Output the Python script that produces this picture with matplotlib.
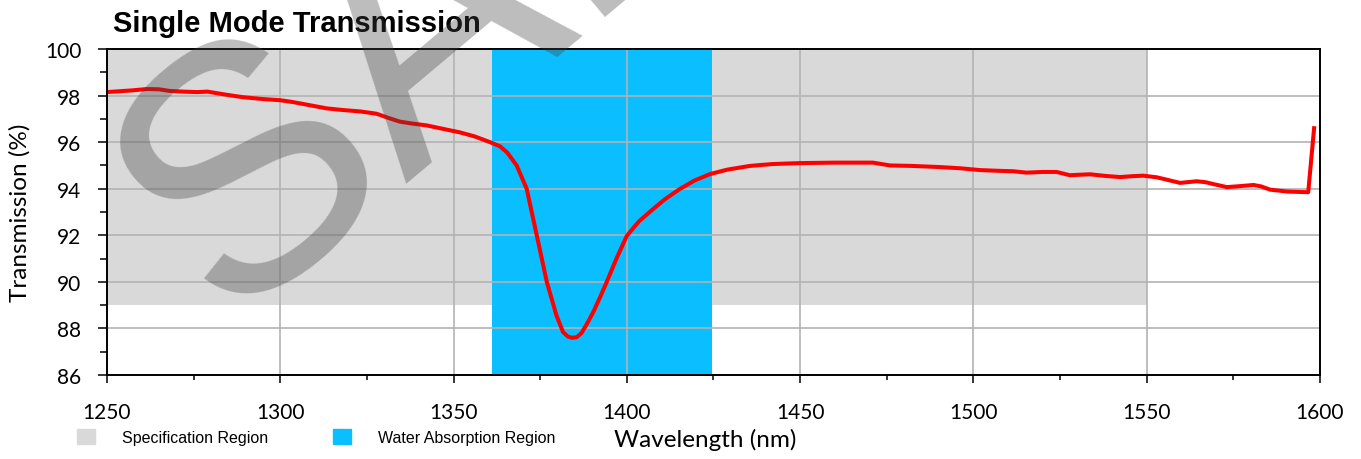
import numpy as np
import matplotlib
matplotlib.use("Agg")
import matplotlib.pyplot as plt
from matplotlib.patches import Patch
from matplotlib.ticker import MultipleLocator

plt.rcParams['font.family'] = ['Lato', 'DejaVu Sans']

wavelength = [1250, 1253, 1257, 1261.5, 1265, 1268, 1272, 1276, 1279, 1282.6,
              1286, 1289.3, 1295, 1300, 1303.7, 1308, 1313.4, 1318, 1323, 1327.8,
              1331, 1334.5, 1338, 1342.2, 1346, 1351.8, 1356, 1360.5, 1363.4, 1365.5,
              1368.2, 1371.1, 1374.0, 1376.9, 1379.7, 1381.6, 1383, 1384.1, 1385.5, 1386.9,
              1388.5, 1390.3, 1392.3, 1394.2, 1397, 1400, 1403.5, 1407.6, 1411, 1415.3,
              1419.5, 1424.0, 1429, 1435.5, 1442, 1449.9, 1460, 1471, 1475.9, 1482,
              1490.3, 1496, 1501.9, 1507, 1511.5, 1515.3, 1520, 1524, 1527.8, 1533.6,
              1538, 1542.3, 1546, 1549, 1552.9, 1556, 1559.6, 1564.4, 1567, 1569.2,
              1573.1, 1576, 1580.8, 1583, 1585.6, 1590.4, 1594, 1596.6, 1598.3]
transmission = [98.15, 98.18, 98.22, 98.28, 98.27, 98.20, 98.17, 98.15, 98.17, 98.08,
                98.00, 97.93, 97.85, 97.80, 97.72, 97.60, 97.45, 97.38, 97.32, 97.22,
                97.05, 96.88, 96.80, 96.72, 96.60, 96.42, 96.25, 96.00, 95.82, 95.55,
                95.00, 94.00, 92.00, 90.00, 88.55, 87.84, 87.65, 87.60, 87.62, 87.80,
                88.20, 88.70, 89.35, 90.00, 91.00, 91.98, 92.60, 93.13, 93.55, 93.99,
                94.35, 94.63, 94.82, 94.98, 95.06, 95.10, 95.12, 95.12, 95.00, 94.98,
                94.93, 94.88, 94.80, 94.77, 94.75, 94.69, 94.72, 94.72, 94.58, 94.62,
                94.55, 94.50, 94.54, 94.56, 94.49, 94.38, 94.25, 94.32, 94.28, 94.20,
                94.07, 94.10, 94.16, 94.10, 93.96, 93.88, 93.86, 93.85, 96.60]

spec_region = (1250, 1550)
spec_floor = 89
water_region = (1361, 1424.5)

fig = plt.figure(figsize=(13.61, 4.6), dpi=100)
ax = fig.add_axes([107 / 1361, 1 - 376 / 460, 1213 / 1361, 326 / 460])

ax.fill_between(spec_region, spec_floor, 100, color='#d9d9d9', lw=0, zorder=1)
ax.axvspan(*water_region, color='#0bbeff', lw=0, zorder=1)
ax.plot(wavelength, transmission, color='#ff0000', lw=2.9, zorder=3)

ax.set_xlim(1250, 1600)
ax.set_ylim(86, 100)
ax.xaxis.set_major_locator(MultipleLocator(50))
ax.xaxis.set_minor_locator(MultipleLocator(25))
ax.yaxis.set_major_locator(MultipleLocator(2))
ax.yaxis.set_minor_locator(MultipleLocator(1))
ax.grid(True, which='major', color='#b3b3b3', lw=1.2)

for s in ax.spines.values():
    s.set_linewidth(1.4)
    s.set_zorder(4)
ax.tick_params(axis='x', which='major', length=6, width=1.1, pad=13.5, labelsize=15)
ax.tick_params(axis='x', which='minor', length=3.8, width=1.1)
ax.tick_params(axis='y', which='major', length=6.5, width=1.1, pad=12, labelsize=15)
ax.tick_params(axis='y', which='minor', length=5, width=1.1)

ax.set_xlabel('Wavelength (nm)', fontsize=17.5, va='center')
ax.xaxis.set_label_coords(0.493, -0.196)
ax.set_ylabel('Transmission (%)', fontsize=17.5, va='center')
ax.yaxis.set_label_coords(-0.0717, 0.5)

fig.text(113 / 1361, 1 - 32 / 460, 'Single Mode Transmission', fontsize=21,
         fontweight='bold', family=['Liberation Sans', 'DejaVu Sans'],
         ha='left', va='baseline')

handles = [Patch(color='#d9d9d9', label='Specification Region'),
           Patch(color='#0bbeff', label='Water Absorption Region')]
fig.legend(handles=handles, loc='center left', bbox_to_anchor=(77 / 1361, 1 - 438 / 460),
           ncol=2, frameon=False, borderpad=0, borderaxespad=0,
           handlelength=1.1, handleheight=1.1, handletextpad=1.7, columnspacing=4.1,
           prop={'family': ['Liberation Sans', 'DejaVu Sans'], 'size': 11.5})

# watermark
fig.text(225 / 1361, 1 - 323 / 460, 'SAMPLE', fontsize=250, rotation=40,
         rotation_mode='anchor', ha='left', va='baseline', color='#404040', alpha=0.35,
         family=['Liberation Sans', 'DejaVu Sans'], zorder=10)

fig.savefig('out.png', dpi=100)
